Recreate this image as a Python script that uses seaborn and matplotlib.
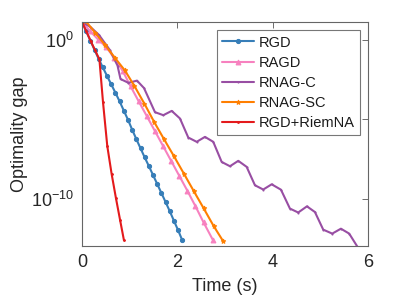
import numpy as np
import pandas as pd
import matplotlib
matplotlib.use("Agg")
import matplotlib.pyplot as plt
import seaborn as sns

# === data (time in s, log10 of optimality gap) ===
rgd_t = [0.0, 0.088, 0.175, 0.263, 0.351, 0.438, 0.526, 0.614, 0.702, 0.789, 0.877, 0.965,
         1.052, 1.14, 1.228, 1.315, 1.403, 1.491, 1.578, 1.666, 1.754, 1.842, 1.929, 2.017, 2.104]
rgd_d = [1.14, 0.55, -0.03, -0.62, -1.2, -1.73, -2.27, -2.8, -3.33, -3.87, -4.45, -5.03,
         -5.65, -6.25, -6.83, -7.4, -7.95, -8.52, -9.08, -9.65, -10.22, -10.8, -11.4, -12.0, -12.63]

ragd_t = [0.0, 0.17, 0.34, 0.51, 0.68, 0.85, 1.02, 1.19, 1.36, 1.53, 1.70, 1.87, 2.04,
          2.21, 2.38, 2.55, 2.75]
ragd_d = [1.14, 0.56, 0.03, -0.45, -1.15, -1.93, -2.92, -3.87, -4.80, -5.74, -6.68, -7.62,
          -8.56, -9.50, -10.48, -11.50, -12.63]

rnagc_t = [0.0, 0.178, 0.357, 0.577, 0.745, 0.808, 0.975, 1.154, 1.301, 1.531, 1.706, 1.882,
           2.056, 2.230, 2.406, 2.580, 2.754, 2.931, 3.105, 3.279, 3.455, 3.629, 3.803, 3.980,
           4.175, 4.363, 4.537, 4.720, 4.888, 5.062, 5.251, 5.433, 5.607, 5.853]
rnagc_d = [1.14, 0.82, 0.32, -0.60, -1.61, -2.46, -2.70, -2.56, -3.03, -4.55, -4.74, -4.47,
           -4.95, -6.15, -6.42, -6.11, -6.42, -7.69, -7.96, -7.62, -8.00, -9.16, -9.43, -9.10,
           -9.44, -10.63, -10.88, -10.49, -10.85, -11.96, -12.21, -11.90, -12.21, -13.39]

rnagsc_t = [0.07, 0.28, 0.48, 0.69, 0.90, 1.10, 1.31, 1.52, 1.72, 1.93, 2.14, 2.34, 2.55,
            2.76, 2.96]
rnagsc_d = [1.22, 0.45, -0.30, -1.12, -1.92, -2.90, -4.02, -5.20, -6.25, -7.33, -8.44, -9.50,
            -10.60, -11.72, -12.68]

riemna_t = [0.0, 0.09, 0.18, 0.27, 0.365, 0.44, 0.53, 0.62, 0.71, 0.80, 0.88]
riemna_d = [1.14, 0.55, -0.05, -0.62, -1.22, -3.90, -6.68, -8.42, -9.94, -11.37, -12.63]

series = [
    ("RGD", rgd_t, rgd_d, "#377eb8", "o", 3.0),
    ("RAGD", ragd_t, ragd_d, "#f781bf", "^", 3.5),
    ("RNAG-C", rnagc_t, rnagc_d, "#984ea3", ".", 1.5),
    ("RNAG-SC", rnagsc_t, rnagsc_d, "#ff7f00", "*", 3.5),
    ("RGD+RiemNA", riemna_t, riemna_d, "#e41a1c", ".", 2.5),
]

sns.set_style("white")
plt.rcParams["font.family"] = ["Liberation Sans", "DejaVu Sans"]
plt.rcParams["mathtext.default"] = "regular"

fig = plt.figure(figsize=(4.07, 3.05), dpi=100)
ax = fig.add_axes([0.2015, 0.193, 0.7025, 0.735])

for name, t, d, col, mk, ms in series:
    df = pd.DataFrame({"t": t, "gap": 10.0 ** np.array(d)})
    sns.lineplot(data=df, x="t", y="gap", ax=ax, color=col, marker=mk, markersize=ms,
                 markeredgecolor=col, linewidth=1.5, sort=False, label=name)

ax.set_yscale("log")
ax.set_xlim(0, 6)
ax.set_ylim(1e-13, 10 ** 1.14)
ax.set_xticks([0, 2, 4, 6])
ax.set_xticklabels(["0", "2", "4", "6"])
ax.set_yticks([1e-10, 1e-5, 1e0])
ax.set_yticklabels(["$10^{-10}$", "", "$10^{0}$"])
ax.minorticks_off()
ax.tick_params(direction="in", top=True, right=True, length=4, width=0.6,
               color="#555555", labelsize=13, labelcolor="#262626", pad=6)
for sp in ax.spines.values():
    sp.set_visible(True)
    sp.set_color("#666666")
    sp.set_linewidth(0.8)

ax.set_xlabel("Time (s)", fontsize=13, color="#262626", labelpad=5)
ax.set_ylabel("Optimality gap", fontsize=13, color="#262626", labelpad=2)

leg = ax.legend(loc="upper right", bbox_to_anchor=(0.972, 0.962), fontsize=10.5,
                frameon=True, fancybox=False, handlelength=2.2, handletextpad=0.3,
                borderpad=0.35, labelspacing=0.42, borderaxespad=0)
leg.get_frame().set_edgecolor("#555555")
leg.get_frame().set_linewidth(0.8)
for txt in leg.get_texts():
    txt.set_color("#1a1a1a")

fig.savefig("out.png", dpi=100)
